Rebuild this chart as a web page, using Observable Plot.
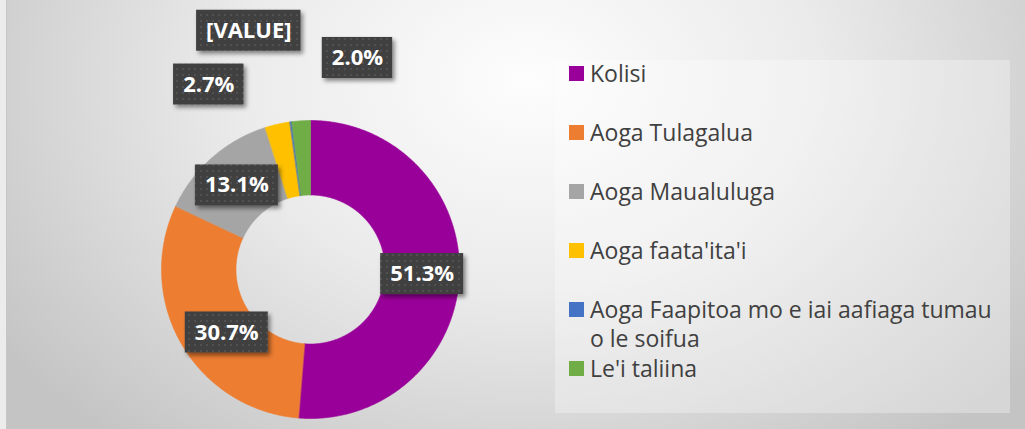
<!DOCTYPE html>
<html>
<head>
<meta charset="utf-8">
<script src="https://cdn.jsdelivr.net/npm/d3@7"></script>
<script src="https://cdn.jsdelivr.net/npm/@observablehq/plot@0.6"></script>
<style>
html, body { margin: 0; padding: 0; background: #ececec; }
#wrap { position: relative; width: 1025px; height: 429px; overflow: hidden; }
#bg { position: absolute; left: 6px; top: 0; right: 0; bottom: 0; border-left: 1px solid #c6c6c6;
  background: radial-gradient(ellipse 640px 470px at 520px 80px, #fdfdfd 0%, #ebebeb 45%, #c4c4c4 100%); }
#chart { position: absolute; left: 0; top: 0; }
#legend { position: absolute; left: 555px; top: 60px; width: 455px; height: 353px;
  background: rgba(255,255,255,0.3); font-family: "Open Sans", sans-serif; color: #404040; }
#legend .row { position: absolute; left: 0; width: 455px; }
#legend .sw { position: absolute; left: 14px; top: 7px; width: 15px; height: 15px; }
#legend .tx { position: absolute; left: 35px; top: 0; width: 414px; font-size: 23px; line-height: 29px; white-space: normal; }
</style>
</head>
<body>
<div id="wrap"><div id="bg"></div><div id="chart"></div><div id="legend"></div></div>
<script>
// ---- data ----
const categories = ["Kolisi", "Aoga Tulagalua", "Aoga Maualuluga", "Aoga faata'ita'i",
  "Aoga Faapitoa mo e iai aafiaga tumau o le soifua", "Le'i taliina"];
const shares = [51.3, 30.7, 13.1, 2.7, 0.2, 2.0];
const labels = ["51.3%", "30.7%", "13.1%", "2.7%", "[VALUE]", "2.0%"];
const colors = ["#990099", "#ED7D31", "#A5A5A5", "#FFC000", "#4472C4", "#70AD47"];

// ---- layout ----
const W = 1025, H = 429, cx = 310, cy = 269, R = 149, inner = 0.5;
// manual label displacement (px) as in the original (labels dragged outside for thin slices)
const labelNudge = [[0, 0], [13, 7], [0, 0], [-77, -76], [-47, -128], [54, -100]];

const arcs = d3.pie().sort(null).value(d => d)(shares);
const arcPts = [];
arcs.forEach((a, i) => {
  const n = Math.max(2, Math.ceil((a.endAngle - a.startAngle) / (Math.PI / 360)) + 1);
  for (let k = 0; k < n; k++) {
    const t = a.startAngle + (a.endAngle - a.startAngle) * k / (n - 1);
    arcPts.push({name: categories[i], x: Math.sin(t), y: Math.cos(t)});
  }
  for (let k = n - 1; k >= 0; k--) {
    const t = a.startAngle + (a.endAngle - a.startAngle) * k / (n - 1);
    arcPts.push({name: categories[i], x: inner * Math.sin(t), y: inner * Math.cos(t)});
  }
});
const rMid = (1 + inner) / 2;
const labelRows = arcs.map((a, i) => {
  const t = (a.startAngle + a.endAngle) / 2;
  return {label: labels[i], x: rMid * Math.sin(t) + labelNudge[i][0] / R, y: rMid * Math.cos(t) - labelNudge[i][1] / R};
});

const chart = Plot.plot({
  width: W, height: H, margin: 0,
  x: {domain: [-cx / R, (W - cx) / R], axis: null},
  y: {domain: [-(H - cy) / R, cy / R], axis: null},
  color: {domain: categories, range: colors},
  style: {background: "transparent", overflow: "visible"},
  marks: [
    Plot.line(arcPts, {x: "x", y: "y", z: "name", fill: "name", stroke: "name", strokeWidth: 0.6, curve: "linear-closed"}),
    Plot.text(labelRows, {x: "x", y: "y", text: "label", fill: "white", fontWeight: "bold", fontSize: 22,
      fontFamily: "Open Sans, sans-serif", className: "dlabel"})
  ]
});
document.getElementById("chart").append(chart);

// label boxes (dark, dotted, with shadow) drawn behind label texts
const ns = "http://www.w3.org/2000/svg";
const svg = chart.tagName === "svg" ? chart : chart.querySelector("svg");
const defs = document.createElementNS(ns, "defs");
defs.innerHTML = `
<pattern id="dots" width="6" height="6" patternUnits="userSpaceOnUse">
  <rect width="6" height="6" fill="#3f3f3f"></rect>
  <circle cx="3" cy="3" r="1" fill="#575757"></circle>
</pattern>
<filter id="shadow" x="-20%" y="-20%" width="150%" height="160%">
  <feDropShadow dx="2.5" dy="3" stdDeviation="2" flood-color="#000" flood-opacity="0.45"></feDropShadow>
</filter>`;
svg.insertBefore(defs, svg.firstChild);
const labelG = svg.querySelector("g.dlabel") || svg.querySelector(".dlabel");
const boxG = document.createElementNS(ns, "g");
const sx = chart.scale("x"), sy = chart.scale("y");
const texts = labelG.querySelectorAll("text");
texts.forEach((t, i) => {
  const bb = t.getBBox();
  const px = sx.apply(labelRows[i].x), py = sy.apply(labelRows[i].y);
  const w = bb.width + 19, h = 41;
  const r = document.createElementNS(ns, "rect");
  r.setAttribute("x", px - w / 2); r.setAttribute("y", py - h / 2);
  r.setAttribute("width", w); r.setAttribute("height", h);
  r.setAttribute("fill", "url(#dots)"); r.setAttribute("filter", "url(#shadow)");
  boxG.append(r);
});
labelG.parentNode.insertBefore(boxG, labelG);

// legend built from the chart's color scale
const cs = chart.scale("color");
const leg = document.getElementById("legend");
cs.domain.forEach((name, i) => {
  const row = document.createElement("div");
  row.className = "row";
  row.style.top = (-1 + i * 59) + "px";
  const sw = document.createElement("div");
  sw.className = "sw"; sw.style.background = cs.apply(name);
  const tx = document.createElement("div");
  tx.className = "tx"; tx.textContent = name;
  row.append(sw, tx);
  leg.append(row);
});
</script>
</body>
</html>
